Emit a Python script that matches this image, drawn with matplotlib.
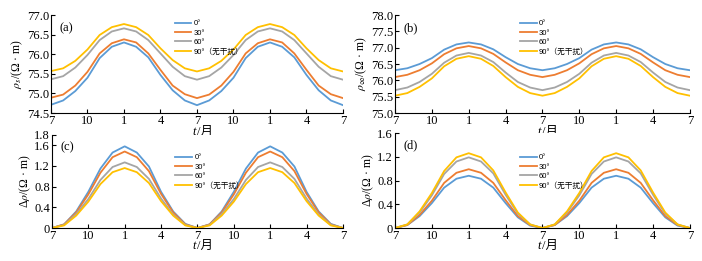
import matplotlib
matplotlib.use("Agg")
import matplotlib.pyplot as plt

plt.rcParams['font.family'] = ['Liberation Serif', 'Noto Sans CJK SC']
plt.rcParams['mathtext.fontset'] = 'stix'

# month labels along x (two years, July to July)
months = [7, 8, 9, 10, 11, 12, 1, 2, 3, 4, 5, 6, 7]
tick_labels = ['7', '10', '1', '4', '7', '10', '1', '4', '7']
series = ['0°', '30°', '60°', '90°（无干扰）']
colors = ['#5B9BD5', '#ED7D31', '#A5A5A5', '#FFC000']

# one yearly cycle per curve (Jul..Jul), repeated for the second year
a_0 = [74.71, 74.82, 75.06, 75.40, 75.90, 76.19, 76.30, 76.19, 75.92, 75.47, 75.08, 74.82, 74.70]
a_30 = [74.89, 74.97, 75.20, 75.55, 76.02, 76.28, 76.38, 76.30, 76.02, 75.60, 75.20, 74.98, 74.88]
a_60 = [75.36, 75.44, 75.66, 75.98, 76.36, 76.58, 76.66, 76.58, 76.36, 76.02, 75.68, 75.44, 75.35]
a_90 = [75.57, 75.64, 75.83, 76.12, 76.49, 76.69, 76.77, 76.69, 76.49, 76.15, 75.85, 75.64, 75.56]

b_0 = [76.31, 76.37, 76.50, 76.68, 76.94, 77.10, 77.16, 77.10, 76.95, 76.71, 76.50, 76.37, 76.31]
b_30 = [76.10, 76.17, 76.31, 76.52, 76.80, 76.98, 77.05, 76.98, 76.81, 76.55, 76.31, 76.17, 76.10]
b_60 = [75.70, 75.78, 75.95, 76.20, 76.54, 76.76, 76.84, 76.76, 76.56, 76.24, 75.95, 75.78, 75.70]
b_90 = [75.53, 75.61, 75.80, 76.06, 76.43, 76.66, 76.74, 76.66, 76.44, 76.10, 75.80, 75.61, 75.53]

c_0 = [0, 0.07, 0.32, 0.70, 1.15, 1.46, 1.58, 1.46, 1.19, 0.70, 0.32, 0.08, 0]
c_30 = [0, 0.07, 0.30, 0.65, 1.07, 1.37, 1.48, 1.37, 1.10, 0.66, 0.30, 0.07, 0]
c_60 = [0, 0.06, 0.27, 0.56, 0.93, 1.18, 1.27, 1.18, 0.95, 0.57, 0.26, 0.06, 0]
c_90 = [0, 0.05, 0.24, 0.51, 0.85, 1.08, 1.16, 1.08, 0.87, 0.52, 0.24, 0.05, 0]

d_0 = [0, 0.05, 0.20, 0.42, 0.68, 0.83, 0.88, 0.83, 0.68, 0.42, 0.18, 0.04, 0]
d_30 = [0, 0.05, 0.22, 0.46, 0.76, 0.93, 0.99, 0.93, 0.76, 0.47, 0.20, 0.05, 0]
d_60 = [0, 0.06, 0.26, 0.55, 0.91, 1.12, 1.19, 1.12, 0.92, 0.56, 0.24, 0.06, 0]
d_90 = [0, 0.06, 0.28, 0.59, 0.96, 1.19, 1.26, 1.19, 0.97, 0.60, 0.26, 0.06, 0]

panels = [
    ('(a)', [a_0, a_30, a_60, a_90], (74.5, 77.0), [74.5, 75.0, 75.5, 76.0, 76.5, 77.0], '%.1f',
     r'$\rho_s$/(Ω · m)', [0.0726, 0.567, 0.416, 0.3755], 1.02),
    ('(b)', [b_0, b_30, b_60, b_90], (75.0, 78.0), [75.0, 75.5, 76.0, 76.5, 77.0, 77.5, 78.0], '%.1f',
     r'$\rho_\infty$/(Ω · m)', [0.5627, 0.567, 0.420, 0.3755], 1.02),
    ('(c)', [c_0, c_30, c_60, c_90], (0, 1.8), [0, 0.4, 0.8, 1.2, 1.6, 1.8], '%g',
     r'Δ$\rho$/(Ω · m)', [0.0740, 0.1264, 0.4145, 0.3565], 0.87),
    ('(d)', [d_0, d_30, d_60, d_90], (0, 1.6), [0, 0.4, 0.8, 1.2, 1.6], '%g',
     r'Δ$\rho$/(Ω · m)', [0.5627, 0.1264, 0.420, 0.3640], 0.85),
]

fig = plt.figure(figsize=(7.02, 2.61), dpi=100)

for tag, curves, ylim, yticks, fmt, ylabel, rect, leg_y in panels:
    ax = fig.add_axes(rect)
    x = list(range(2 * len(months) - 1))
    for vals, col, name in zip(curves, colors, series):
        ax.plot(x, vals + vals[1:], color=col, lw=1.3, label=name)
    ax.set_xlim(0, 24)
    ax.set_ylim(*ylim)
    ax.set_xticks(range(0, 25, 3))
    ax.set_xticklabels(tick_labels)
    ax.set_yticks(yticks)
    ax.set_yticklabels([fmt % v for v in yticks])
    for s in ['top', 'right']:
        ax.spines[s].set_visible(False)
    ax.tick_params(direction='in', length=3, width=0.8, labelsize=9, pad=1.5)
    ax.set_ylabel(ylabel, fontsize=8.5, labelpad=1)
    # x label "t/月": italic t, then CJK part
    ax.text(0.496, -0.13, 't', style='italic', fontsize=9, ha='right', va='top',
            transform=ax.transAxes)
    ax.text(0.5, -0.13, '/月', fontsize=9, ha='left', va='top', transform=ax.transAxes,
            family=['Liberation Serif', 'Noto Sans CJK SC'])
    ax.text(0.03, 0.93, tag, transform=ax.transAxes, fontsize=9, va='top')
    ax.legend(loc='upper left', bbox_to_anchor=(0.40, leg_y),
              frameon=False, handlelength=2.2, handletextpad=0.3, labelspacing=0.25,
              prop={'family': ['Liberation Sans', 'Noto Sans CJK SC'], 'size': 5.5})

fig.savefig('out.png', dpi=100)
